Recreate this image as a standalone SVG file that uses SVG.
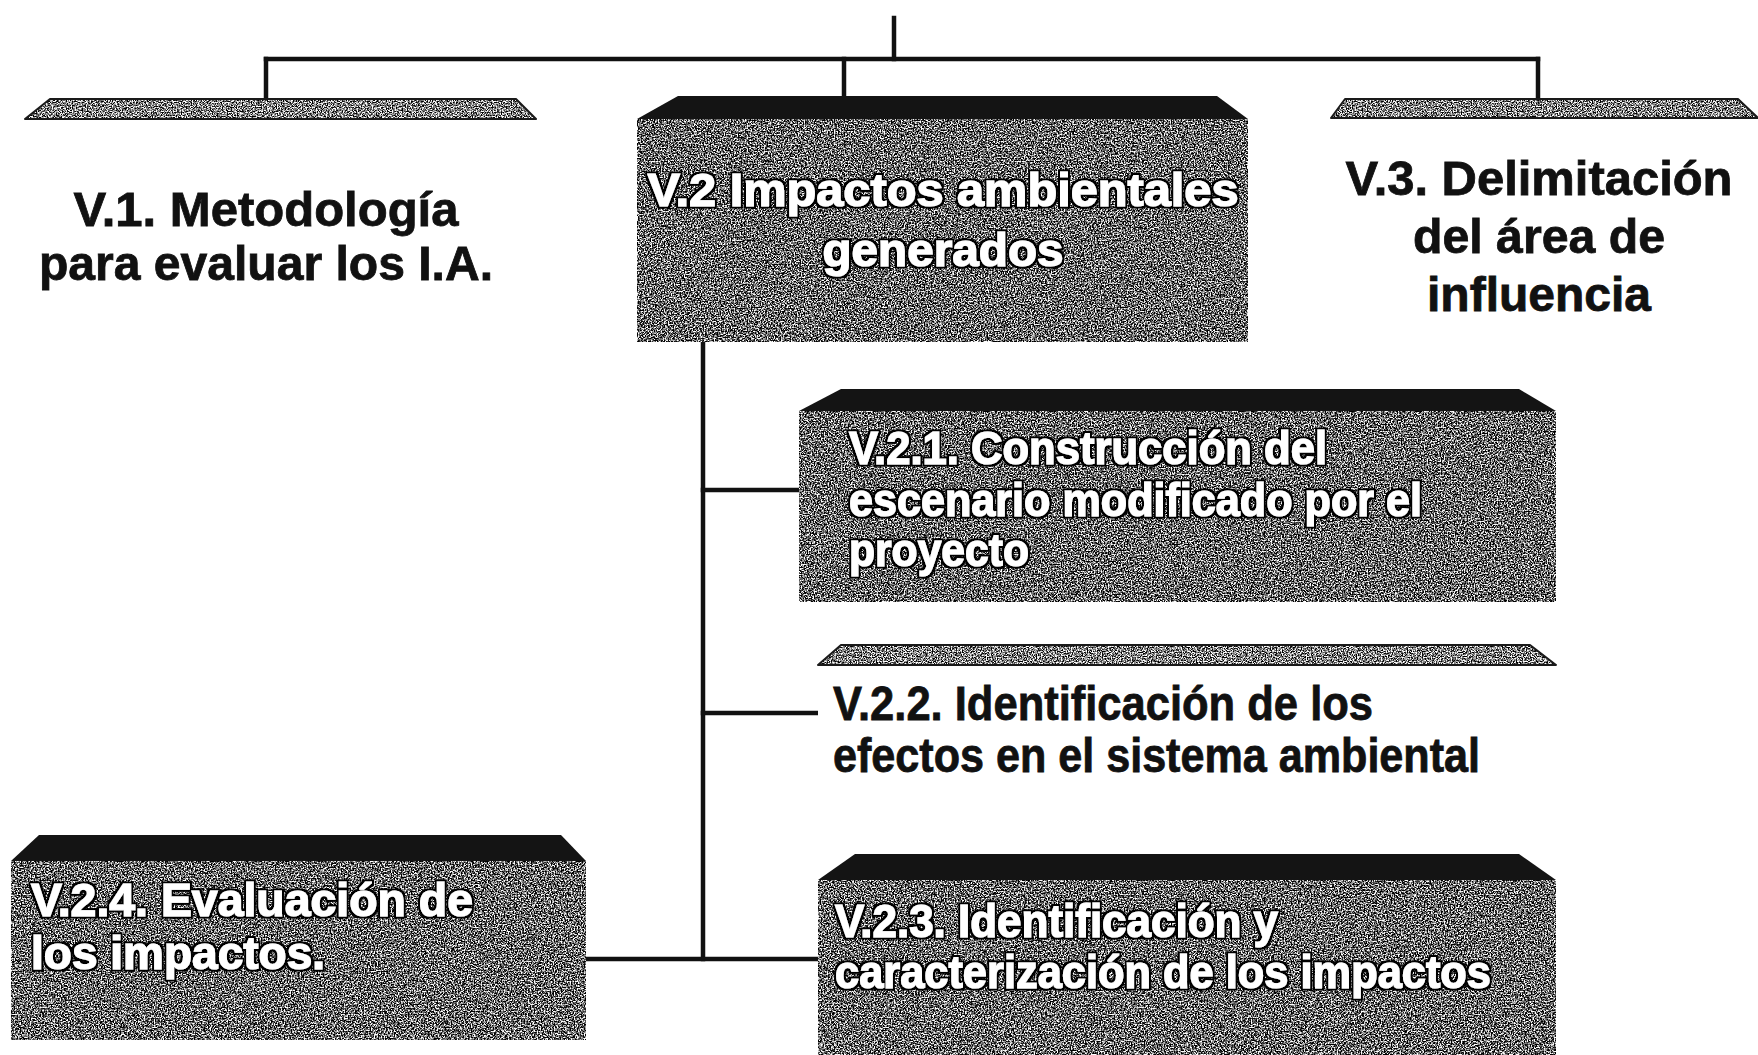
<svg xmlns="http://www.w3.org/2000/svg" width="1758" height="1055" viewBox="0 0 1758 1055">
<style>
  .lt { font-family: "Liberation Sans", Arial, sans-serif; font-weight: bold; font-size: 48px; fill: #111; stroke: #111; stroke-width: 0.8px; }
  .dk { font-family: "Liberation Sans", Arial, sans-serif; font-weight: bold; font-size: 47px; fill: #fff; stroke: #fff; stroke-width: 1.2px; filter: url(#outline); }
  .conn line { stroke: #111; stroke-width: 4.5; stroke-linecap: square; }
  .bevDark { fill: #141414; }
  .bevLight { fill: #7a7a7a; filter: url(#grainLight); }
  .bevEdge { fill: none; stroke: #1a1a1a; stroke-width: 2; stroke-linejoin: round; }
  .faceDark { fill: #777; filter: url(#grainDark); }
  .faceLight { fill: #fff; }
</style>
<defs>
  <filter id="grainDark" x="0" y="0" width="1" height="1" color-interpolation-filters="sRGB">
    <feTurbulence type="fractalNoise" baseFrequency="0.7" numOctaves="2" seed="5" result="noise"/>
    <feColorMatrix in="noise" type="matrix" values="3.4 0 0 0 -1.3  3.4 0 0 0 -1.3  3.4 0 0 0 -1.3  0 0 0 0 1" result="gray"/>
    <feComposite in="gray" in2="SourceGraphic" operator="in"/>
  </filter>
  <filter id="grainLight" x="0" y="0" width="1" height="1" color-interpolation-filters="sRGB">
    <feTurbulence type="fractalNoise" baseFrequency="0.8" numOctaves="2" seed="11" result="noise"/>
    <feColorMatrix in="noise" type="matrix" values="3.2 0 0 0 -1.1  3.2 0 0 0 -1.1  3.2 0 0 0 -1.1  0 0 0 0 1" result="gray"/>
    <feComposite in="gray" in2="SourceGraphic" operator="in"/>
  </filter>
  <filter id="outline" x="-5%" y="-20%" width="110%" height="140%">
    <feMorphology in="SourceAlpha" operator="dilate" radius="2.2" result="d"/>
    <feFlood flood-color="#000"/>
    <feComposite in2="d" operator="in" result="o"/>
    <feMerge>
      <feMergeNode in="o"/>
      <feMergeNode in="SourceGraphic"/>
    </feMerge>
  </filter>
</defs>
<rect x="0" y="0" width="1758" height="1055" fill="#fff"/>

<g id="connectors" class="conn">
  <line x1="894" y1="18" x2="894" y2="59"/>
  <line x1="266" y1="59" x2="1538" y2="59"/>
  <line x1="266" y1="59" x2="266" y2="99"/>
  <line x1="844" y1="59" x2="844" y2="96"/>
  <line x1="1538" y1="59" x2="1538" y2="99"/>
  <line x1="703" y1="342" x2="703" y2="959"/>
  <line x1="703" y1="490" x2="799" y2="490"/>
  <line x1="703" y1="713" x2="818" y2="713"/>
  <line x1="586" y1="959" x2="818" y2="959"/>
</g>

<g id="node-v1">
  <rect class="faceLight" x="25" y="119" width="511" height="206"/>
  <polygon class="bevLight" points="50,99 516,99 536,119 25,119"/>
  <polygon class="bevEdge" points="50,99 516,99 536,119 25,119"/>
  <text class="lt" x="266" y="226" text-anchor="middle" textLength="385" lengthAdjust="spacingAndGlyphs">V.1. Metodología</text>
  <text class="lt" x="266" y="280" text-anchor="middle" textLength="454" lengthAdjust="spacingAndGlyphs">para evaluar los I.A.</text>
</g>

<g id="node-v2">
  <rect class="faceDark" x="637" y="119" width="611" height="223"/>
  <polygon class="bevDark" points="678,96 1217,96 1248,119 637,119"/>
  <text class="dk" x="943" y="206" text-anchor="middle" textLength="591" lengthAdjust="spacingAndGlyphs">V.2 Impactos ambientales</text>
  <text class="dk" x="943" y="266" text-anchor="middle" textLength="241" lengthAdjust="spacingAndGlyphs">generados</text>
</g>

<g id="node-v3">
  <rect class="faceLight" x="1331" y="118" width="427" height="224"/>
  <polygon class="bevLight" points="1345,99 1738,99 1758,118 1331,118"/>
  <polygon class="bevEdge" points="1345,99 1738,99 1758,118 1331,118"/>
  <text class="lt" x="1539" y="195" text-anchor="middle" textLength="387" lengthAdjust="spacingAndGlyphs">V.3. Delimitación</text>
  <text class="lt" x="1539" y="253" text-anchor="middle" textLength="252" lengthAdjust="spacingAndGlyphs">del área de</text>
  <text class="lt" x="1539" y="311" text-anchor="middle" textLength="224" lengthAdjust="spacingAndGlyphs">influencia</text>
</g>

<g id="node-v21">
  <rect class="faceDark" x="799" y="411" width="757" height="191"/>
  <polygon class="bevDark" points="841,389 1519,389 1556,411 799,411"/>
  <text class="dk" x="849" y="464" textLength="478" lengthAdjust="spacingAndGlyphs">V.2.1. Construcción del</text>
  <text class="dk" x="849" y="516" textLength="573" lengthAdjust="spacingAndGlyphs">escenario modificado por el</text>
  <text class="dk" x="849" y="566" textLength="180" lengthAdjust="spacingAndGlyphs">proyecto</text>
</g>

<g id="node-v22">
  <rect class="faceLight" x="818" y="665" width="738" height="142"/>
  <polygon class="bevLight" points="841,645 1530,645 1556,665 818,665"/>
  <polygon class="bevEdge" points="841,645 1530,645 1556,665 818,665"/>
  <text class="lt" x="833" y="720" textLength="540" lengthAdjust="spacingAndGlyphs">V.2.2. Identificación de los</text>
  <text class="lt" x="833" y="772" textLength="647" lengthAdjust="spacingAndGlyphs">efectos en el sistema ambiental</text>
</g>

<g id="node-v23">
  <rect class="faceDark" x="818" y="880" width="738" height="175"/>
  <polygon class="bevDark" points="855,854 1519,854 1556,880 818,880"/>
  <text class="dk" x="835" y="937" textLength="443" lengthAdjust="spacingAndGlyphs">V.2.3. Identificación y</text>
  <text class="dk" x="835" y="988" textLength="656" lengthAdjust="spacingAndGlyphs">caracterización de los impactos</text>
</g>

<g id="node-v24">
  <rect class="faceDark" x="11" y="861" width="575" height="179"/>
  <polygon class="bevDark" points="39,835 561,835 586,861 11,861"/>
  <text class="dk" x="31" y="916" textLength="442" lengthAdjust="spacingAndGlyphs">V.2.4. Evaluación de</text>
  <text class="dk" x="31" y="969" textLength="294" lengthAdjust="spacingAndGlyphs">los impactos.</text>
</g>
</svg>
